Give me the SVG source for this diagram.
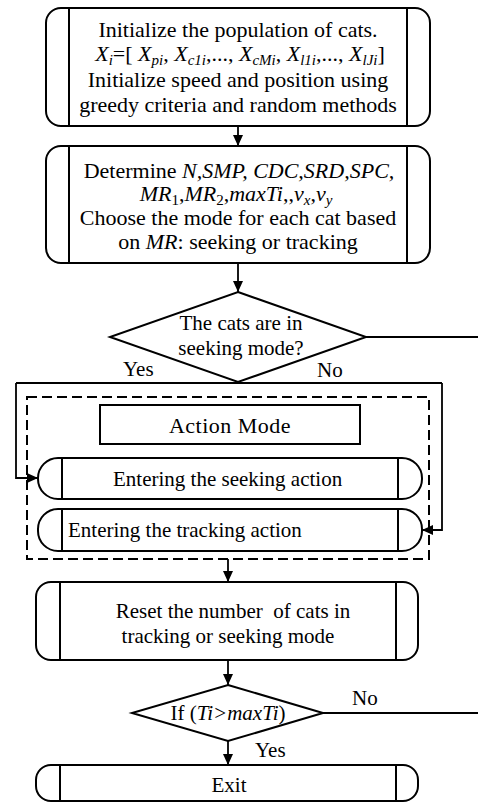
<svg xmlns="http://www.w3.org/2000/svg" width="478" height="804" viewBox="0 0 478 804" font-family="'Liberation Serif', 'DejaVu Serif', serif">
<style>
.s{fill:#fff;stroke:#000;stroke-width:2}
.l{fill:none;stroke:#000;stroke-width:2}
.c{fill:none;stroke:#000;stroke-width:1.8}
text{font-family:'Liberation Serif','DejaVu Serif',serif;font-size:21px;fill:#000}
.m{text-anchor:middle}
.i{font-style:italic}
.sb{font-size:15px}
.big{font-size:22px}
</style>
<defs>
<marker id="ah" markerWidth="11" markerHeight="10" refX="11" refY="5" orient="auto" markerUnits="userSpaceOnUse"><path d="M0,0 L11,5 L0,10 z" fill="#000"/></marker>
</defs>
<rect width="478" height="804" fill="#fff"/>

<g id="connectors">
<line class="c" x1="238" y1="126" x2="238" y2="146" marker-end="url(#ah)"/>
<line class="c" x1="238" y1="263" x2="238" y2="292" marker-end="url(#ah)"/>
<line class="c" x1="366" y1="337" x2="478" y2="337"/>
<line class="c" x1="16" y1="383" x2="442" y2="383"/>
<path class="c" d="M16,383 V478 H38" marker-end="url(#ah)"/>
<path class="c" d="M442,383 V530 H422" marker-end="url(#ah)"/>
<line class="c" x1="228" y1="559" x2="228" y2="582" marker-end="url(#ah)"/>
<line class="c" x1="228" y1="660" x2="228" y2="685" marker-end="url(#ah)"/>
<line class="c" x1="323" y1="713" x2="478" y2="713"/>
<line class="c" x1="228" y1="741" x2="228" y2="765" marker-end="url(#ah)"/>
<text x="123" y="376">Yes</text>
<text x="317" y="377">No</text>
<text x="352" y="705">No</text>
<text x="255" y="757">Yes</text>
</g>

<g id="init">
<rect class="s" x="46" y="8" width="384" height="118" rx="15"/>
<line class="l" x1="69" y1="8" x2="69" y2="126"/>
<line class="l" x1="407" y1="8" x2="407" y2="126"/>
<text class="m big" x="238" y="37">Initialize the population of cats.</text>
<text class="m big" x="240" y="61"><tspan class="i">X</tspan><tspan class="i sb" baseline-shift="-4">i</tspan>=[ <tspan class="i">X</tspan><tspan class="i sb" baseline-shift="-4">pi</tspan>, <tspan class="i">X</tspan><tspan class="i sb" baseline-shift="-4">c1i</tspan>,..., <tspan class="i">X</tspan><tspan class="i sb" baseline-shift="-4">cMi</tspan>, <tspan class="i">X</tspan><tspan class="i sb" baseline-shift="-4">l1i</tspan>,..., <tspan class="i">X</tspan><tspan class="i sb" baseline-shift="-4">lJi</tspan>]</text>
<text class="m big" x="238" y="87">Initialize speed and position using</text>
<text class="m big" x="238" y="112">greedy criteria and random methods</text>
</g>

<g id="determine">
<rect class="s" x="46" y="146" width="384" height="117" rx="15"/>
<line class="l" x1="69" y1="146" x2="69" y2="263"/>
<line class="l" x1="407" y1="146" x2="407" y2="263"/>
<text class="m big" x="239" y="178">Determine <tspan class="i">N,SMP, CDC,SRD,SPC,</tspan></text>
<text class="m big" x="236" y="201"><tspan class="i">MR</tspan><tspan class="sb" baseline-shift="-4">1</tspan>,<tspan class="i">MR</tspan><tspan class="sb" baseline-shift="-4">2</tspan>,<tspan class="i">maxTi</tspan>,,<tspan class="i">v</tspan><tspan class="i sb" baseline-shift="-4">x</tspan>,<tspan class="i">v</tspan><tspan class="i sb" baseline-shift="-4">y</tspan></text>
<text class="m big" x="238" y="225">Choose the mode for each cat based</text>
<text class="m big" x="238" y="249">on <tspan class="i">MR</tspan>: seeking or tracking</text>
</g>

<g id="decision1">
<polygon class="s" points="238,292 366,337 238,382 110,337"/>
<text class="m" x="241" y="330">The cats are in</text>
<text class="m" x="241" y="355">seeking mode?</text>
</g>

<g id="actionGroup">
<rect x="27" y="397" width="402" height="162" fill="none" stroke="#000" stroke-width="2" stroke-dasharray="10,5"/>
</g>

<g id="actionMode">
<rect class="s" x="100" y="405" width="260" height="39"/>
<text class="m" x="230" y="433" letter-spacing="0.5" style="font-size:22px">Action Mode</text>
</g>

<g id="seeking">
<rect class="s" x="38" y="458" width="384" height="41" rx="20"/>
<line class="l" x1="62" y1="458" x2="62" y2="499"/>
<line class="l" x1="398" y1="458" x2="398" y2="499"/>
<text x="113" y="486">Entering the seeking action</text>
</g>

<g id="tracking">
<rect class="s" x="38" y="509" width="384" height="42" rx="20"/>
<line class="l" x1="62" y1="509" x2="62" y2="551"/>
<line class="l" x1="398" y1="509" x2="398" y2="551"/>
<text x="68" y="537">Entering the tracking action</text>
</g>

<g id="reset">
<rect class="s" x="36" y="582" width="382" height="78" rx="15"/>
<line class="l" x1="60" y1="582" x2="60" y2="660"/>
<line class="l" x1="396" y1="582" x2="396" y2="660"/>
<text class="m" x="233" y="618" xml:space="preserve">Reset the number  of cats in</text>
<text class="m" x="228" y="643">tracking or seeking mode</text>
</g>

<g id="decision2">
<polygon class="s" points="228,685 323,713 228,741 132,713"/>
<text class="m" x="228" y="720">If (<tspan class="i">Ti&gt;maxTi</tspan>)</text>
</g>

<g id="exit">
<rect class="s" x="36" y="765" width="382" height="36" rx="15"/>
<line class="l" x1="60" y1="765" x2="60" y2="801"/>
<line class="l" x1="396" y1="765" x2="396" y2="801"/>
<text class="m" x="229" y="792">Exit</text>
</g>
</svg>
